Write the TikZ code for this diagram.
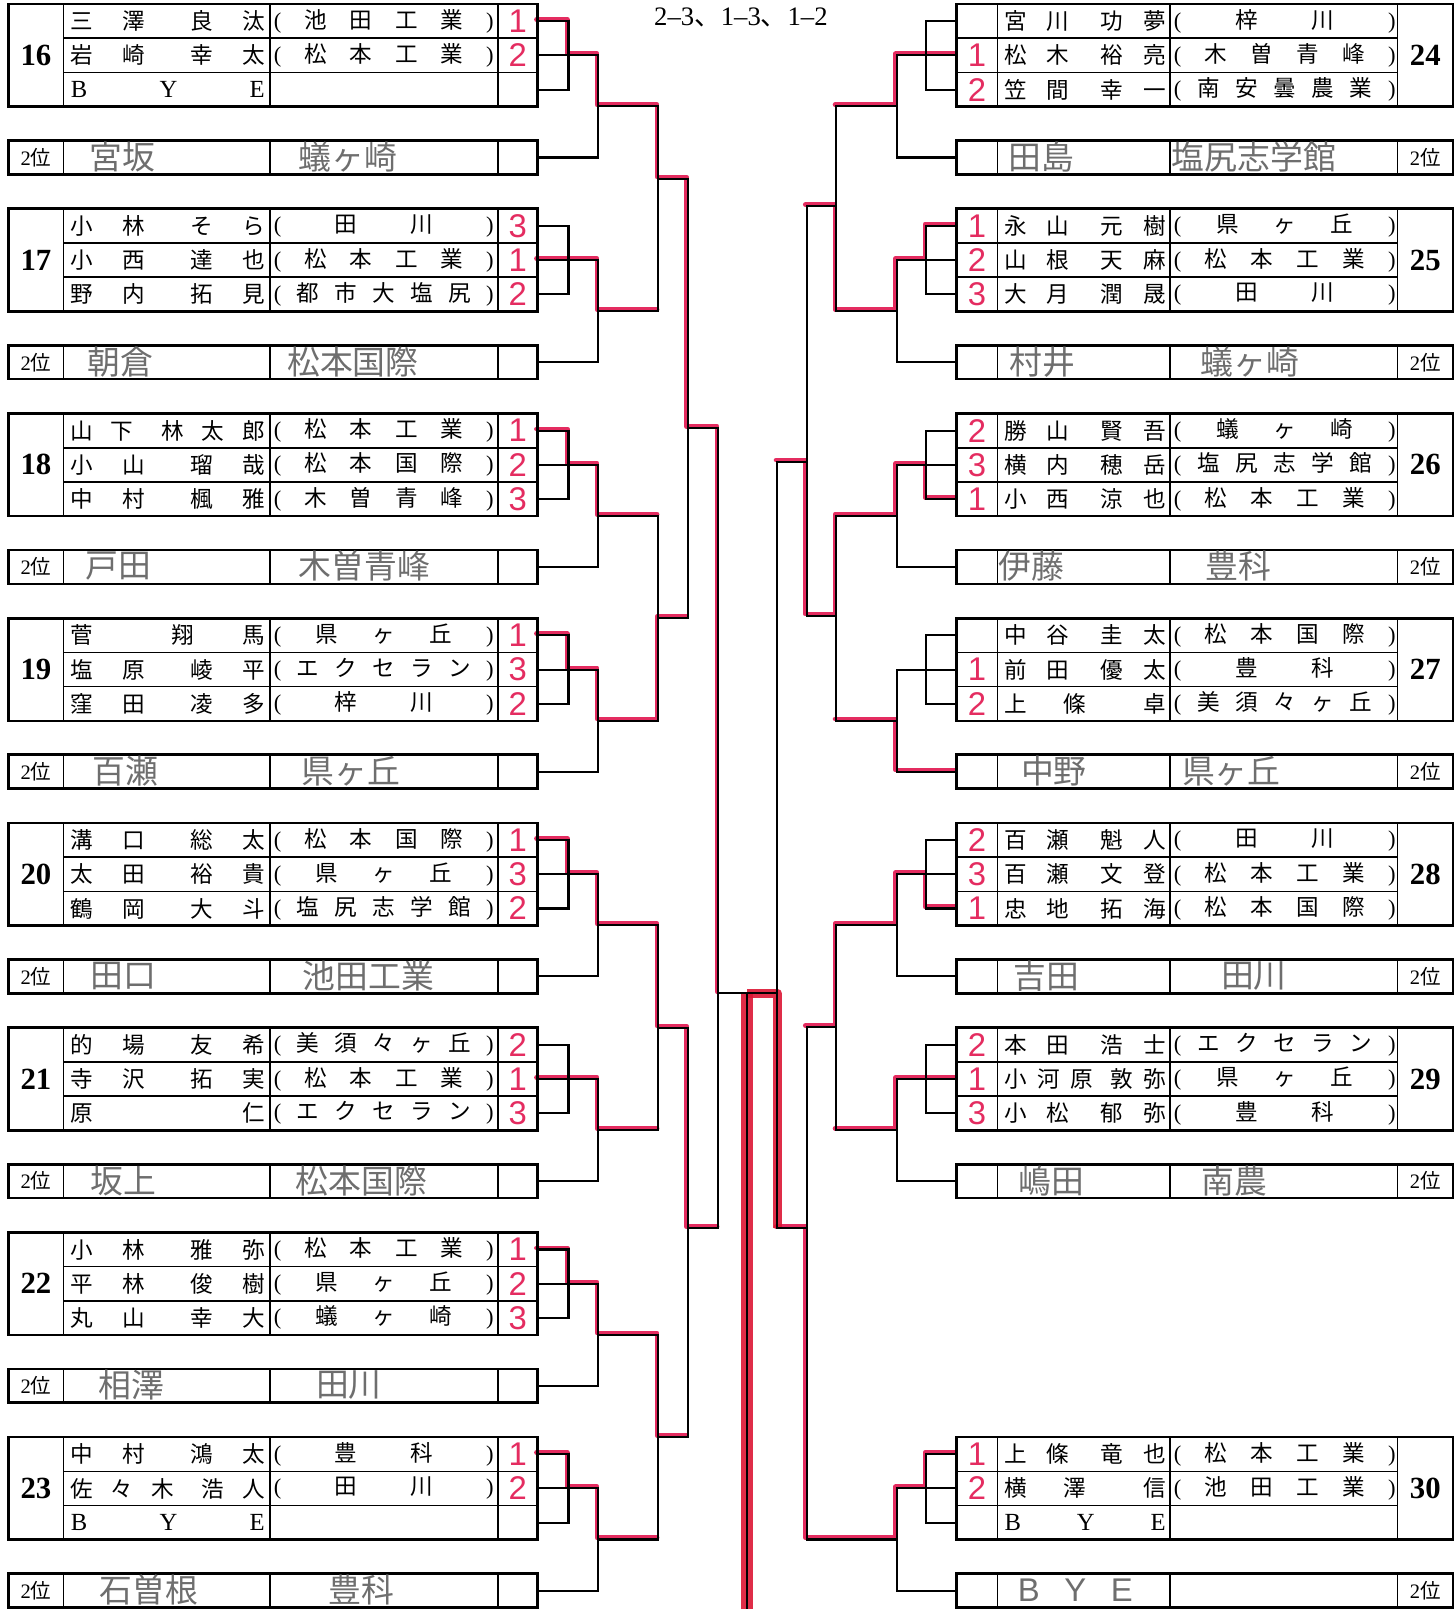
\documentclass[tikz,border=0pt]{standalone}
\usepackage{fontspec}
\setmainfont{Liberation Serif}
\newfontfamily\jp{Noto Sans CJK JP}
\newfontfamily\hw{Liberation Sans}
\usepackage{tikz}

\definecolor{marker}{RGB}{228,44,96}
\definecolor{champ}{RGB}{220,22,52}
\definecolor{pencil}{RGB}{110,110,110}

\makeatletter
\newcommand\sprd[1]{\let\sprsep\relax\@tfor\sprc:=#1\do{\sprsep\sprc\let\sprsep\hfill}}
\makeatother
\newcommand\nm[2]{\sprd{#1}\hskip 0pt plus 1.6fill\sprd{#2}}
\newcommand\sch[1]{{\rmfamily(}\hfill\sprd{#1}\hfill{\rmfamily)}}
\newcommand\bye{\rmfamily\fontsize{12}{13}\selectfont\sprd{BYE}}

\tikzset{
  outer/.style={line width=1.3pt},
  inner/.style={line width=0.8pt},
  br/.style={line width=1pt},
  win/.style={draw=marker, line width=2.3pt, line join=round, line cap=round,
    transform canvas={xshift=-0.6pt,yshift=0.8pt}},
  champline/.style={draw=champ, line width=4.5pt, line join=round, opacity=0.9},
  txt/.style={inner sep=0pt, font=\jp\fontsize{11}{13}\selectfont},
  num/.style={inner sep=0pt, font=\bfseries\fontsize{15}{16}\selectfont},
  sec/.style={inner sep=0pt, font=\fontsize{10}{12}\selectfont},
  res/.style={inner sep=0pt, text=marker, font=\hw\fontsize{16}{16}\selectfont},
  hand/.style={inner sep=0pt, text=pencil, font=\jp\fontsize{16}{17}\selectfont}
}

\begin{document}
\begin{tikzpicture}[x=0.5pt,y=-0.5pt]
\useasboundingbox (0,0) rectangle (1418,1568);

\foreach \g in {0,...,7}{
  \pgfmathsetmacro\tp{4+199.5*\g}
  \coordinate (la\g) at (524,\tp+16.67);
  \coordinate (lb\g) at (524,\tp+50);
  \coordinate (lc\g) at (524,\tp+83.33);
  \coordinate (ld\g) at (524,\tp+149.5);
  \coordinate (lp\g) at (554,\tp+50);
  \coordinate (lq\g) at (583,\tp+99.75);
  \coordinate (ra\g) at (932,\tp+16.67);
  \coordinate (rb\g) at (932,\tp+50);
  \coordinate (rc\g) at (932,\tp+83.33);
  \coordinate (rd\g) at (932,\tp+149.5);
  \coordinate (rp\g) at (902.5,\tp+50);
  \coordinate (rq\g) at (874,\tp+99.75);
}
\coordinate (lr0) at (641.5,174);
\coordinate (lr1) at (641.5,602.5);
\coordinate (lr2) at (641.5,1001.5);
\coordinate (lr3) at (641.5,1400.5);
\coordinate (ls0) at (670,417);
\coordinate (ls1) at (670,1197);
\coordinate (lt) at (700,968);
\coordinate (rr0) at (815,201);
\coordinate (rr1) at (815,600);
\coordinate (rr2) at (815,1001);
\coordinate (rs0) at (786,450);
\coordinate (rs1) at (786,1197);
\coordinate (rt) at (757.5,968);
\coordinate (fin) at (728,968);
\coordinate (down) at (728,1568);

% winners
\draw[win] (la0) -| (lp0) -| (lq0) -| (lr0) -| (ls0) -| (lt);
\draw[win] (lb1) -- (lp1) -| (lq1) -- (lq1 -| lr0);
\draw[win] (la2) -| (lp2) -| (lq2) -- (lq2 -| lr1);
\draw[win] (la3) -| (lp3) -| (lq3) -| (lr1) -- (lr1 -| ls0);
\draw[win] (la4) -| (lp4) -| (lq4) -| (lr2) -| (ls1) -- (ls1 -| lt);
\draw[win] (lb5) -- (lp5) -| (lq5) -- (lq5 -| lr2);
\draw[win] (la6) -| (lp6) -| (lq6) -| (lr3) -- (lr3 -| ls1);
\draw[win] (la7) -| (lp7) -| (lq7) -- (lq7 -| lr3);
\draw[win] (rb0) -- (rp0) -| (rq0) -- (rq0 -| rr0);
\draw[win] (ra1) -| (rp1) -| (rq1) -| (rr0) -- (rr0 -| rs0);
\draw[win] (rc2) -| (rp2) -| (rq2) -| (rr1) -| (rs0) -- (rs0 -| rt);
\draw[win] (rd3) -| (rq3) -- (rq3 -| rr1);
\draw[win] (rc4) -| (rp4) -| (rq4) -| (rr2) -- (rr2 -| rs1);
\draw[win] (rb5) -- (rp5) -| (rq5) -- (rq5 -| rr2);
\draw[win] (ra7) -| (rp7) -| (rq7) -| (rs1) -- (rs1 -| rt);
\draw[champline] (rs1 -| rt) -- (rt) -- (fin);
\draw[champline, line width=6pt] (fin) -- (down);

% bracket
\foreach \g in {0,...,7}
  \draw[br] (la\g) -| (lp\g) (lc\g) -| (lp\g) (lb\g) -- (lp\g) -| (lq\g) (ld\g) -| (lq\g);
\foreach \g in {0,1,2,3,4,5,7}
  \draw[br] (ra\g) -| (rp\g) (rc\g) -| (rp\g) (rb\g) -- (rp\g) -| (rq\g) (rd\g) -| (rq\g);
\foreach \g/\j in {0/0,1/0,2/1,3/1,4/2,5/2,6/3,7/3}
  \draw[br] (lq\g) -| (lr\j);
\foreach \g/\j in {0/0,1/0,2/1,3/1,4/2,5/2}
  \draw[br] (rq\g) -| (rr\j);
\draw[br] (lr0) -| (ls0) (lr1) -| (ls0) (lr2) -| (ls1) (lr3) -| (ls1)
  (ls0) -| (lt) (ls1) -| (lt);
\draw[br] (rr0) -| (rs0) (rr1) -| (rs0) (rr2) -| (rs1) (rq7) -| (rs1)
  (rs0) -| (rt) (rs1) -| (rt);
\draw[br] (lt) -- (rt) (fin) -- (down);

% tables
\foreach \g in {0,...,7}{
  \pgfmathsetmacro\tp{4+199.5*\g}
  \draw[outer] (8,\tp) rectangle (524,\tp+100);
  \draw[inner] (62,\tp) -- (62,\tp+100) (263,\tp) -- (263,\tp+100) (485,\tp) -- (485,\tp+100)
    (62,\tp+33.33) -- (524,\tp+33.33) (62,\tp+66.67) -- (524,\tp+66.67);
  \draw[outer] (8,\tp+133) rectangle (524,\tp+166);
  \draw[inner] (62,\tp+133) -- (62,\tp+166) (263,\tp+133) -- (263,\tp+166)
    (485,\tp+133) -- (485,\tp+166);
  \pgfmathtruncatemacro\n{16+\g}
  \node[num] (lno\g) at (35,\tp+50) {\n};
  \node[sec] (lsec\g) at (35,\tp+149.5) {2{\jp 位}};
}
\foreach \g/\n in {0/24,1/25,2/26,3/27,4/28,5/29,7/30}{
  \pgfmathsetmacro\tp{4+199.5*\g}
  \draw[outer] (932,\tp) rectangle (1416,\tp+100);
  \draw[inner] (972,\tp) -- (972,\tp+100) (1140,\tp) -- (1140,\tp+100) (1362,\tp) -- (1362,\tp+100)
    (932,\tp+33.33) -- (1362,\tp+33.33) (932,\tp+66.67) -- (1362,\tp+66.67);
  \draw[outer] (932,\tp+133) rectangle (1416,\tp+166);
  \draw[inner] (972,\tp+133) -- (972,\tp+166) (1140,\tp+133) -- (1140,\tp+166)
    (1362,\tp+133) -- (1362,\tp+166);
  \node[num] (rno\g) at (1389,\tp+50) {\n};
  \node[sec] (rsec\g) at (1389,\tp+149.5) {2{\jp 位}};
}

\node[inner sep=0pt, font=\fontsize{13}{14}\selectfont] (title) at (722,17) {2–3{\jp 、}1–3{\jp 、}1–2};

\foreach \g/\r/\pn/\ps/\pr in {
  0/1/\nm{三澤}{良汰}/\sch{池田工業}/1, 0/2/\nm{岩崎}{幸太}/\sch{松本工業}/2, 0/3/\bye/{}/{},
  1/1/\nm{小林}{そら}/\sch{田川}/3, 1/2/\nm{小西}{達也}/\sch{松本工業}/1, 1/3/\nm{野内}{拓見}/\sch{都市大塩尻}/2,
  2/1/\nm{山下}{林太郎}/\sch{松本工業}/1, 2/2/\nm{小山}{瑠哉}/\sch{松本国際}/2, 2/3/\nm{中村}{楓雅}/\sch{木曽青峰}/3,
  3/1/\nm{菅}{翔馬}/\sch{県ヶ丘}/1, 3/2/\nm{塩原}{崚平}/\sch{エクセラン}/3, 3/3/\nm{窪田}{凌多}/\sch{梓川}/2,
  4/1/\nm{溝口}{総太}/\sch{松本国際}/1, 4/2/\nm{太田}{裕貴}/\sch{県ヶ丘}/3, 4/3/\nm{鶴岡}{大斗}/\sch{塩尻志学館}/2,
  5/1/\nm{的場}{友希}/\sch{美須々ヶ丘}/2, 5/2/\nm{寺沢}{拓実}/\sch{松本工業}/1, 5/3/\nm{原}{仁}/\sch{エクセラン}/3,
  6/1/\nm{小林}{雅弥}/\sch{松本工業}/1, 6/2/\nm{平林}{俊樹}/\sch{県ヶ丘}/2, 6/3/\nm{丸山}{幸大}/\sch{蟻ヶ崎}/3,
  7/1/\nm{中村}{鴻太}/\sch{豊科}/1, 7/2/\nm{佐々木}{浩人}/\sch{田川}/2, 7/3/\bye/{}/{}}{
  \pgfmathsetmacro\yy{4+199.5*\g+33.33*\r-16.67}
  \node[txt] (lnm\g\r) at (163.5,\yy) {\makebox[94.5pt]{\pn}};
  \node[txt] (lsc\g\r) at (374,\yy) {\makebox[107pt]{\ps}};
  \node[res] (lrs\g\r) at (504.5,\yy) {\pr};
}
\foreach \g/\r/\pn/\ps/\pr in {
  0/1/\nm{宮川}{功夢}/\sch{梓川}/{}, 0/2/\nm{松木}{裕亮}/\sch{木曽青峰}/1, 0/3/\nm{笠間}{幸一}/\sch{南安曇農業}/2,
  1/1/\nm{永山}{元樹}/\sch{県ヶ丘}/1, 1/2/\nm{山根}{天麻}/\sch{松本工業}/2, 1/3/\nm{大月}{潤晟}/\sch{田川}/3,
  2/1/\nm{勝山}{賢吾}/\sch{蟻ヶ崎}/2, 2/2/\nm{横内}{穂岳}/\sch{塩尻志学館}/3, 2/3/\nm{小西}{涼也}/\sch{松本工業}/1,
  3/1/\nm{中谷}{圭太}/\sch{松本国際}/{}, 3/2/\nm{前田}{優太}/\sch{豊科}/1, 3/3/\nm{上條}{卓}/\sch{美須々ヶ丘}/2,
  4/1/\nm{百瀬}{魁人}/\sch{田川}/2, 4/2/\nm{百瀬}{文登}/\sch{松本工業}/3, 4/3/\nm{忠地}{拓海}/\sch{松本国際}/1,
  5/1/\nm{本田}{浩士}/\sch{エクセラン}/2, 5/2/\nm{小河原}{敦弥}/\sch{県ヶ丘}/1, 5/3/\nm{小松}{郁弥}/\sch{豊科}/3,
  7/1/\nm{上條}{竜也}/\sch{松本工業}/1, 7/2/\nm{横澤}{信}/\sch{池田工業}/2, 7/3/\bye/{}/{}}{
  \pgfmathsetmacro\yy{4+199.5*\g+33.33*\r-16.67}
  \node[txt] (rnm\g\r) at (1057.5,\yy) {\makebox[78.5pt]{\pn}};
  \node[txt] (rsc\g\r) at (1252,\yy) {\makebox[108pt]{\ps}};
  \node[res] (rrs\g\r) at (952,\yy) {\pr};
}

\foreach \g/\hn/\hx/\hs/\sx in {0/宮坂/119/蟻ヶ崎/339, 1/朝倉/117/松本国際/344, 2/戸田/115/木曽青峰/355,
  3/百瀬/122/県ヶ丘/342, 4/田口/120/池田工業/359, 5/坂上/120/松本国際/352, 6/相澤/128/田川/340,
  7/石曽根/145/豊科/352}{
  \pgfmathsetmacro\yy{4+199.5*\g+149}
  \node[hand] (lhn\g) at (\hx,\yy) {\hn};
  \node[hand] (lhs\g) at (\sx,\yy) {\hs};
}
\foreach \g/\hn/\hx/\hs/\sx in {0/田島/1015/塩尻志学館/1222, 1/村井/1016/蟻ヶ崎/1218, 2/伊藤/1005/豊科/1207,
  3/中野/1027/県ヶ丘/1200, 4/吉田/1020/田川/1222, 5/嶋田/1025/南農/1203,
  7/{\hw\makebox[56pt]{\sprd{BYE}}}/1048/{}/1200}{
  \pgfmathsetmacro\yy{4+199.5*\g+149}
  \node[hand] (rhn\g) at (\hx,\yy) {\hn};
  \node[hand] (rhs\g) at (\sx,\yy) {\hs};
}
\end{tikzpicture}
\end{document}
